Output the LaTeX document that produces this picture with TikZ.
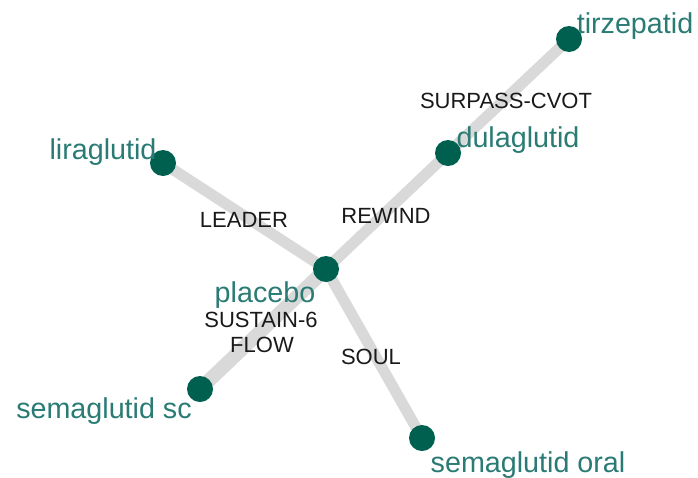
\documentclass[tikz,border=0pt]{standalone}
\usepackage{fontspec}
\setmainfont{Liberation Sans}
\usetikzlibrary{backgrounds}

\definecolor{dotgreen}{HTML}{00604F}
\definecolor{labteal}{HTML}{2A7B74}
\definecolor{edgegray}{HTML}{D9D9D9}

\tikzset{
  drug/.style={circle, fill=dotgreen, minimum size=26pt, inner sep=0pt},
  drugname/.style={text=labteal, font=\fontsize{28.7}{30}\selectfont, anchor=base, inner sep=0pt},
  trial/.style={text=black!90, font=\fontsize{22}{24}\selectfont, anchor=base, inner sep=0pt},
  link/.style={draw=edgegray, line width=11pt},
  biglink/.style={draw=edgegray, line width=14pt}
}

\begin{document}
\begin{tikzpicture}[x=1pt, y=-1pt]

\useasboundingbox (0,0) rectangle (698,477);

\node[drug] (tirz) at (569,39) {};
\node[drug] (dula) at (448,153) {};
\node[drug] (lira) at (163,163) {};
\node[drug] (plac) at (326,269) {};
\node[drug] (semasc) at (200,389) {};
\node[drug] (semaor) at (422,438) {};

\begin{scope}[on background layer]
\draw[link] (dula.center) -- (tirz.center);
\draw[link] (plac.center) -- (dula.center);
\draw[link] (plac.center) -- (lira.center);
\draw[biglink] (plac.center) -- (semasc.center);
\draw[link] (plac.center) -- (semaor.center);
\end{scope}

\node[drugname] (tirzname) at (635,33) {tirzepatid};
\node[drugname] (dulaname) at (518,147) {dulaglutid};
\node[drugname] (liraname) at (103,159) {liraglutid};
\node[drugname] (placname) at (265,302) {placebo};
\node[drugname] (semascname) at (104,418) {semaglutid sc};
\node[drugname] (semaorname) at (528,472) {semaglutid oral};

\node[trial] (surpass) at (506,108) {SURPASS-CVOT};
\node[trial] (rewind) at (386,223) {REWIND};
\node[trial] (leader) at (244,227) {LEADER};
\node[trial] (sustain) at (261,327) {SUSTAIN-6};
\node[trial] (flow) at (262,352) {FLOW};
\node[trial] (soul) at (371,364) {SOUL};

\end{tikzpicture}
\end{document}
